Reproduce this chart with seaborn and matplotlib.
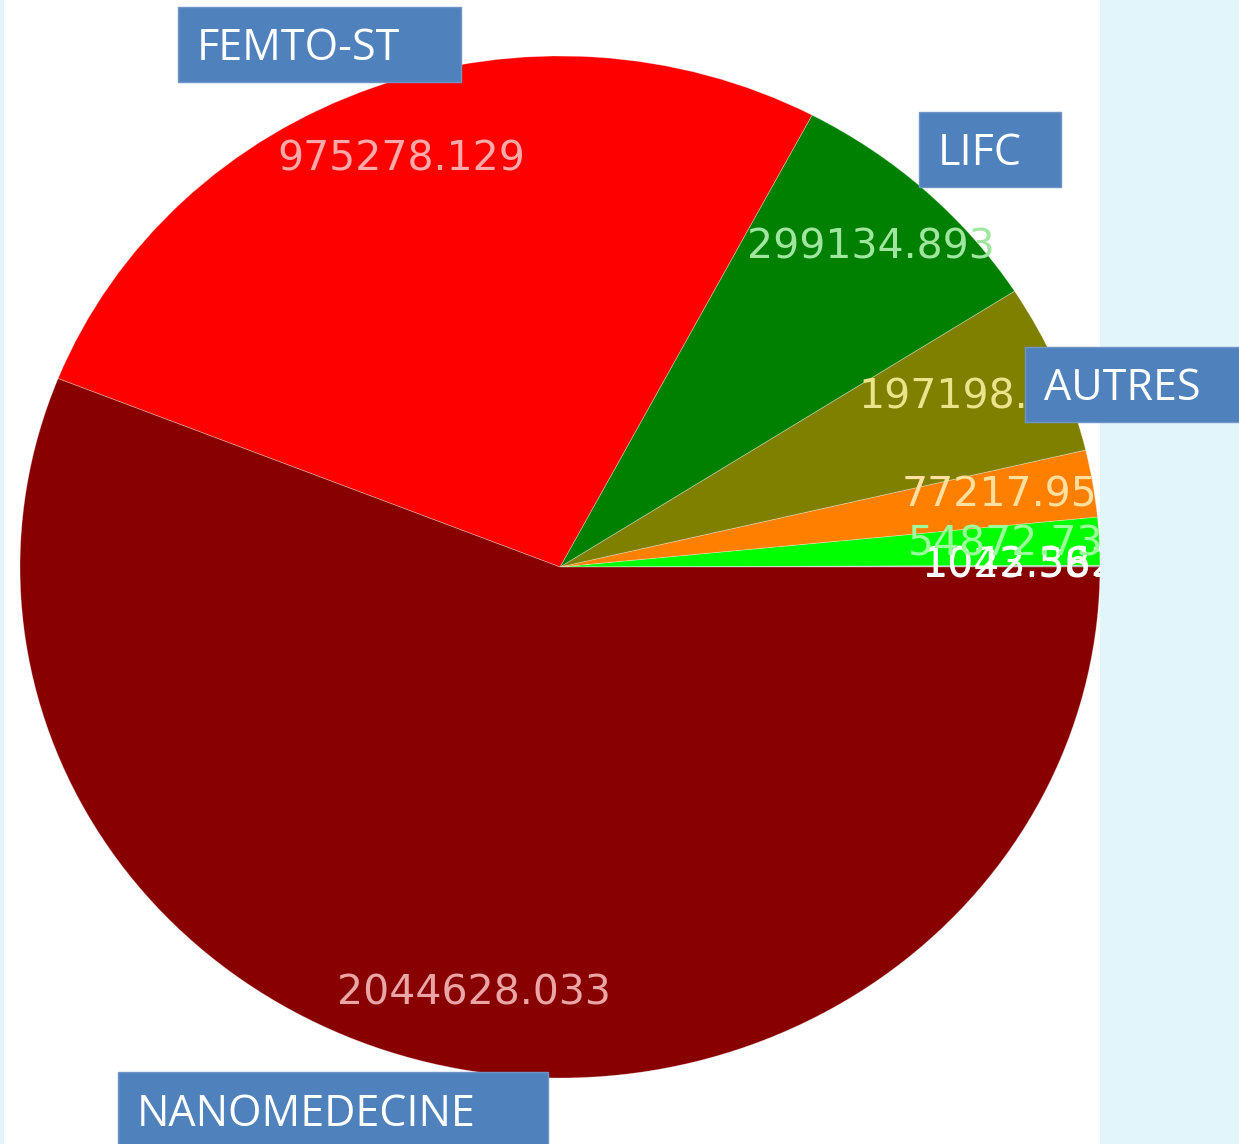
import seaborn as sns
import matplotlib.pyplot as plt
from matplotlib.patches import Rectangle, Circle

# slice data (counter-clockwise from 3 o'clock)
values = [1023.581, 1042.362, 54872.731, 77217.953, 197198.522,
          299134.893, 975278.129, 2044628.033]
colors = ["#3a3a3a", "#b0b0b0", "#00ff00", "#ff8000", "#808000",
          "#008000", "#ff0000", "#880000"]
label_colors = ["#ffffff", "#ffffff", "#9cff9c", "#ffe0a0", "#ece48c",
                "#a0e6a0", "#ffaaaa", "#eaa6a6"]

# blue caption boxes: text, box (x0, y0, x1, y1) in pixels
box_texts = ["FEMTO-ST", "LIFC", "AUTRES", "NANOMEDECINE"]
box_coords = [(178, 7, 461, 82), (919, 112, 1061, 187),
              (1025, 347, 1245, 422), (118, 1072, 548, 1150)]

W, H = 1239, 1144

sns.set_theme(style="white")
fig = plt.figure(figsize=(W / 100, H / 100), dpi=100)
fig.patch.set_facecolor("#e2f5fa")

# white sheet behind the pie
fig.add_artist(Rectangle((4 / W, 0), (1100 - 4) / W, 1, transform=fig.transFigure,
                         facecolor="white", edgecolor="none", zorder=0))

ax = fig.add_axes([20 / W, (H - 1078) / H, 1080 / W, 1022 / H])
wedges, texts = ax.pie(
    values,
    colors=colors,
    labels=[f"{v:.3f}" for v in values],
    labeldistance=0.85,
    startangle=0,
    counterclock=True,
    wedgeprops=dict(linewidth=0.6, edgecolor=(1, 1, 1, 0.35)),
    textprops=dict(fontsize=29.5, family="DejaVu Sans"),
)
ax.set_aspect("auto")
ax.set_xlim(-1, 1)
ax.set_ylim(-1, 1)
ax.axis("off")

# labels are cut off at the rim of the pie
clip = Circle((0, 0), 1.005, transform=ax.transData)
for t, c in zip(texts, label_colors):
    t.set_color(c)
    t.set_ha("center")
    t.set_va("center")
    t.set_clip_on(True)
    t.set_clip_path(clip)

for txt, (x0, y0, x1, y1) in zip(box_texts, box_coords):
    fig.add_artist(Rectangle((x0 / W, 1 - y1 / H), (x1 - x0) / W, (y1 - y0) / H,
                             transform=fig.transFigure, facecolor="#4f81bd",
                             edgecolor="#6f95c8", linewidth=1, zorder=5))
    fig.text((x0 + 19) / W, 1 - ((y0 + y1) / 2 + 4) / H, txt, color="white",
             fontsize=31, family="Open Sans", va="center", ha="left", zorder=6)

fig.savefig("out.png", dpi=100, facecolor=fig.get_facecolor())
